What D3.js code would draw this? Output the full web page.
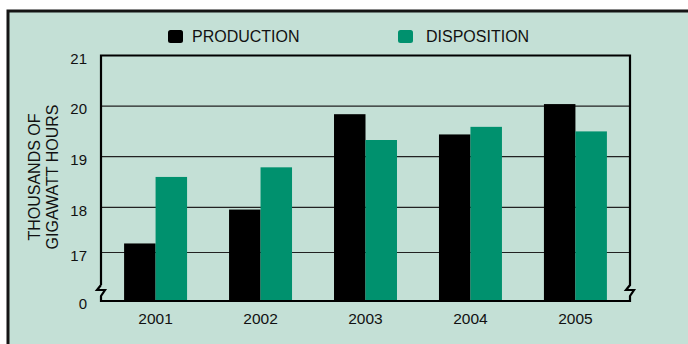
<!DOCTYPE html>
<html>
<head>
<meta charset="utf-8">
<script src="https://cdn.jsdelivr.net/npm/d3@7"></script>
<style>
  body { margin: 0; background: #fff; }
  svg { display: block; font-family: "Liberation Sans", Arial, sans-serif; }
</style>
</head>
<body>
<svg id="chart" width="688" height="344"></svg>
<script>
// data
var years = ["2001", "2002", "2003", "2004", "2005"];
var production  = [17.2, 17.95, 19.84, 19.44, 20.04];
var disposition = [18.6, 18.79, 19.33, 19.59, 19.5];
var seriesNames = ["PRODUCTION", "DISPOSITION"];
var yTicks = [0, 17, 18, 19, 20, 21];

var colors = { "PRODUCTION": "#000000", "DISPOSITION": "#00916e" };
var bg = "#c4e0d6";

var svg = d3.select("#chart");

// panel with frame on the top and left
svg.append("rect")
    .attr("x", 8).attr("y", 11)
    .attr("width", 700).attr("height", 350)
    .attr("fill", bg)
    .attr("stroke", "#151515")
    .attr("stroke-width", 3);

// note: "top" is taken by window.top, so use other names
var plotLeft = 101, plotRight = 630, plotTop = 55.5, plotBase = 301;

// broken axis: 0 at the base, then 17..21
var y = d3.scaleLinear()
    .domain([0, 17, 18, 21])
    .range([plotBase, 252.5, 207.3, plotTop]);

var x = d3.scaleBand()
    .domain(years)
    .range([plotLeft, plotRight])
    .paddingInner(0.4)
    .paddingOuter(0.22);

var xs = d3.scaleBand()
    .domain(seriesNames)
    .range([0, x.bandwidth()]);

// gridlines
svg.append("g")
  .selectAll("line")
  .data(yTicks.filter(function(d) { return d > 0 && d < 21; }))
  .enter().append("line")
    .attr("x1", plotLeft).attr("x2", plotRight)
    .attr("y1", function(d) { return y(d); })
    .attr("y2", function(d) { return y(d); })
    .attr("stroke", "#222")
    .attr("stroke-width", 1.2);

// bars
var rows = years.map(function(yr, i) {
  return { year: yr, values: [
    { name: "PRODUCTION", v: production[i] },
    { name: "DISPOSITION", v: disposition[i] }
  ]};
});

svg.append("g")
  .selectAll("g")
  .data(rows)
  .enter().append("g")
    .attr("transform", function(d) { return "translate(" + x(d.year) + ",0)"; })
  .selectAll("rect")
  .data(function(d) { return d.values; })
  .enter().append("rect")
    .attr("x", function(d) { return xs(d.name); })
    .attr("width", xs.bandwidth())
    .attr("y", function(d) { return y(d.v); })
    .attr("height", function(d) { return y(0) - y(d.v); })
    .attr("fill", function(d) { return colors[d.name]; });

// plot frame with break marks
var L = plotLeft, R = plotRight, T = plotTop, B = plotBase;
var frame = "M" + L + "," + (B - 16) +
  " L" + L + "," + T + " L" + R + "," + T +
  " L" + R + "," + (B - 16) +
  " L" + (R - 4) + "," + (B - 11) +
  " L" + (R + 4) + "," + (B - 11) +
  " L" + R + "," + (B - 5) +
  " L" + R + "," + B + " L" + L + "," + B +
  " L" + L + "," + (B - 5) +
  " L" + (L + 4) + "," + (B - 11) +
  " L" + (L - 4) + "," + (B - 11) +
  " L" + L + "," + (B - 16);
svg.append("path")
    .attr("d", frame)
    .attr("fill", "none")
    .attr("stroke", "#000")
    .attr("stroke-width", 2.2)
    .attr("stroke-linejoin", "miter");

// y tick labels
svg.append("g")
  .selectAll("text")
  .data(yTicks)
  .enter().append("text")
    .attr("x", 87)
    .attr("y", function(d) { return y(d) + 3; })
    .attr("dy", "0.35em")
    .attr("text-anchor", "end")
    .attr("font-size", 15)
    .attr("fill", "#111")
    .text(function(d) { return d; });

// x labels
svg.append("g")
  .selectAll("text")
  .data(years)
  .enter().append("text")
    .attr("x", function(d) { return x(d) + x.bandwidth() / 2; })
    .attr("y", 324)
    .attr("text-anchor", "middle")
    .attr("font-size", 15.5)
    .attr("fill", "#111")
    .text(function(d) { return d; });

// y title
var yt = svg.append("text")
    .attr("transform", "translate(40,177) rotate(-90)")
    .attr("text-anchor", "middle")
    .attr("font-size", 16)
    .attr("fill", "#111");
yt.append("tspan").attr("x", 0).attr("dy", 0).text("THOUSANDS OF");
yt.append("tspan").attr("x", 0).attr("dy", 18).text("GIGAWATT HOURS");

// legend
var legendX = [168, 398];
var legendTextX = [24, 28];
var legend = svg.append("g")
  .selectAll("g")
  .data(seriesNames)
  .enter().append("g")
    .attr("transform", function(d, i) { return "translate(" + legendX[i] + ",30)"; });
legend.append("rect")
    .attr("width", 15).attr("height", 13)
    .attr("rx", 2.5)
    .attr("fill", function(d) { return colors[d]; });
legend.append("text")
    .attr("x", function(d, i) { return legendTextX[i]; })
    .attr("y", 12)
    .attr("font-size", 16)
    .attr("fill", "#111")
    .text(function(d) { return d; });
</script>
</body>
</html>
